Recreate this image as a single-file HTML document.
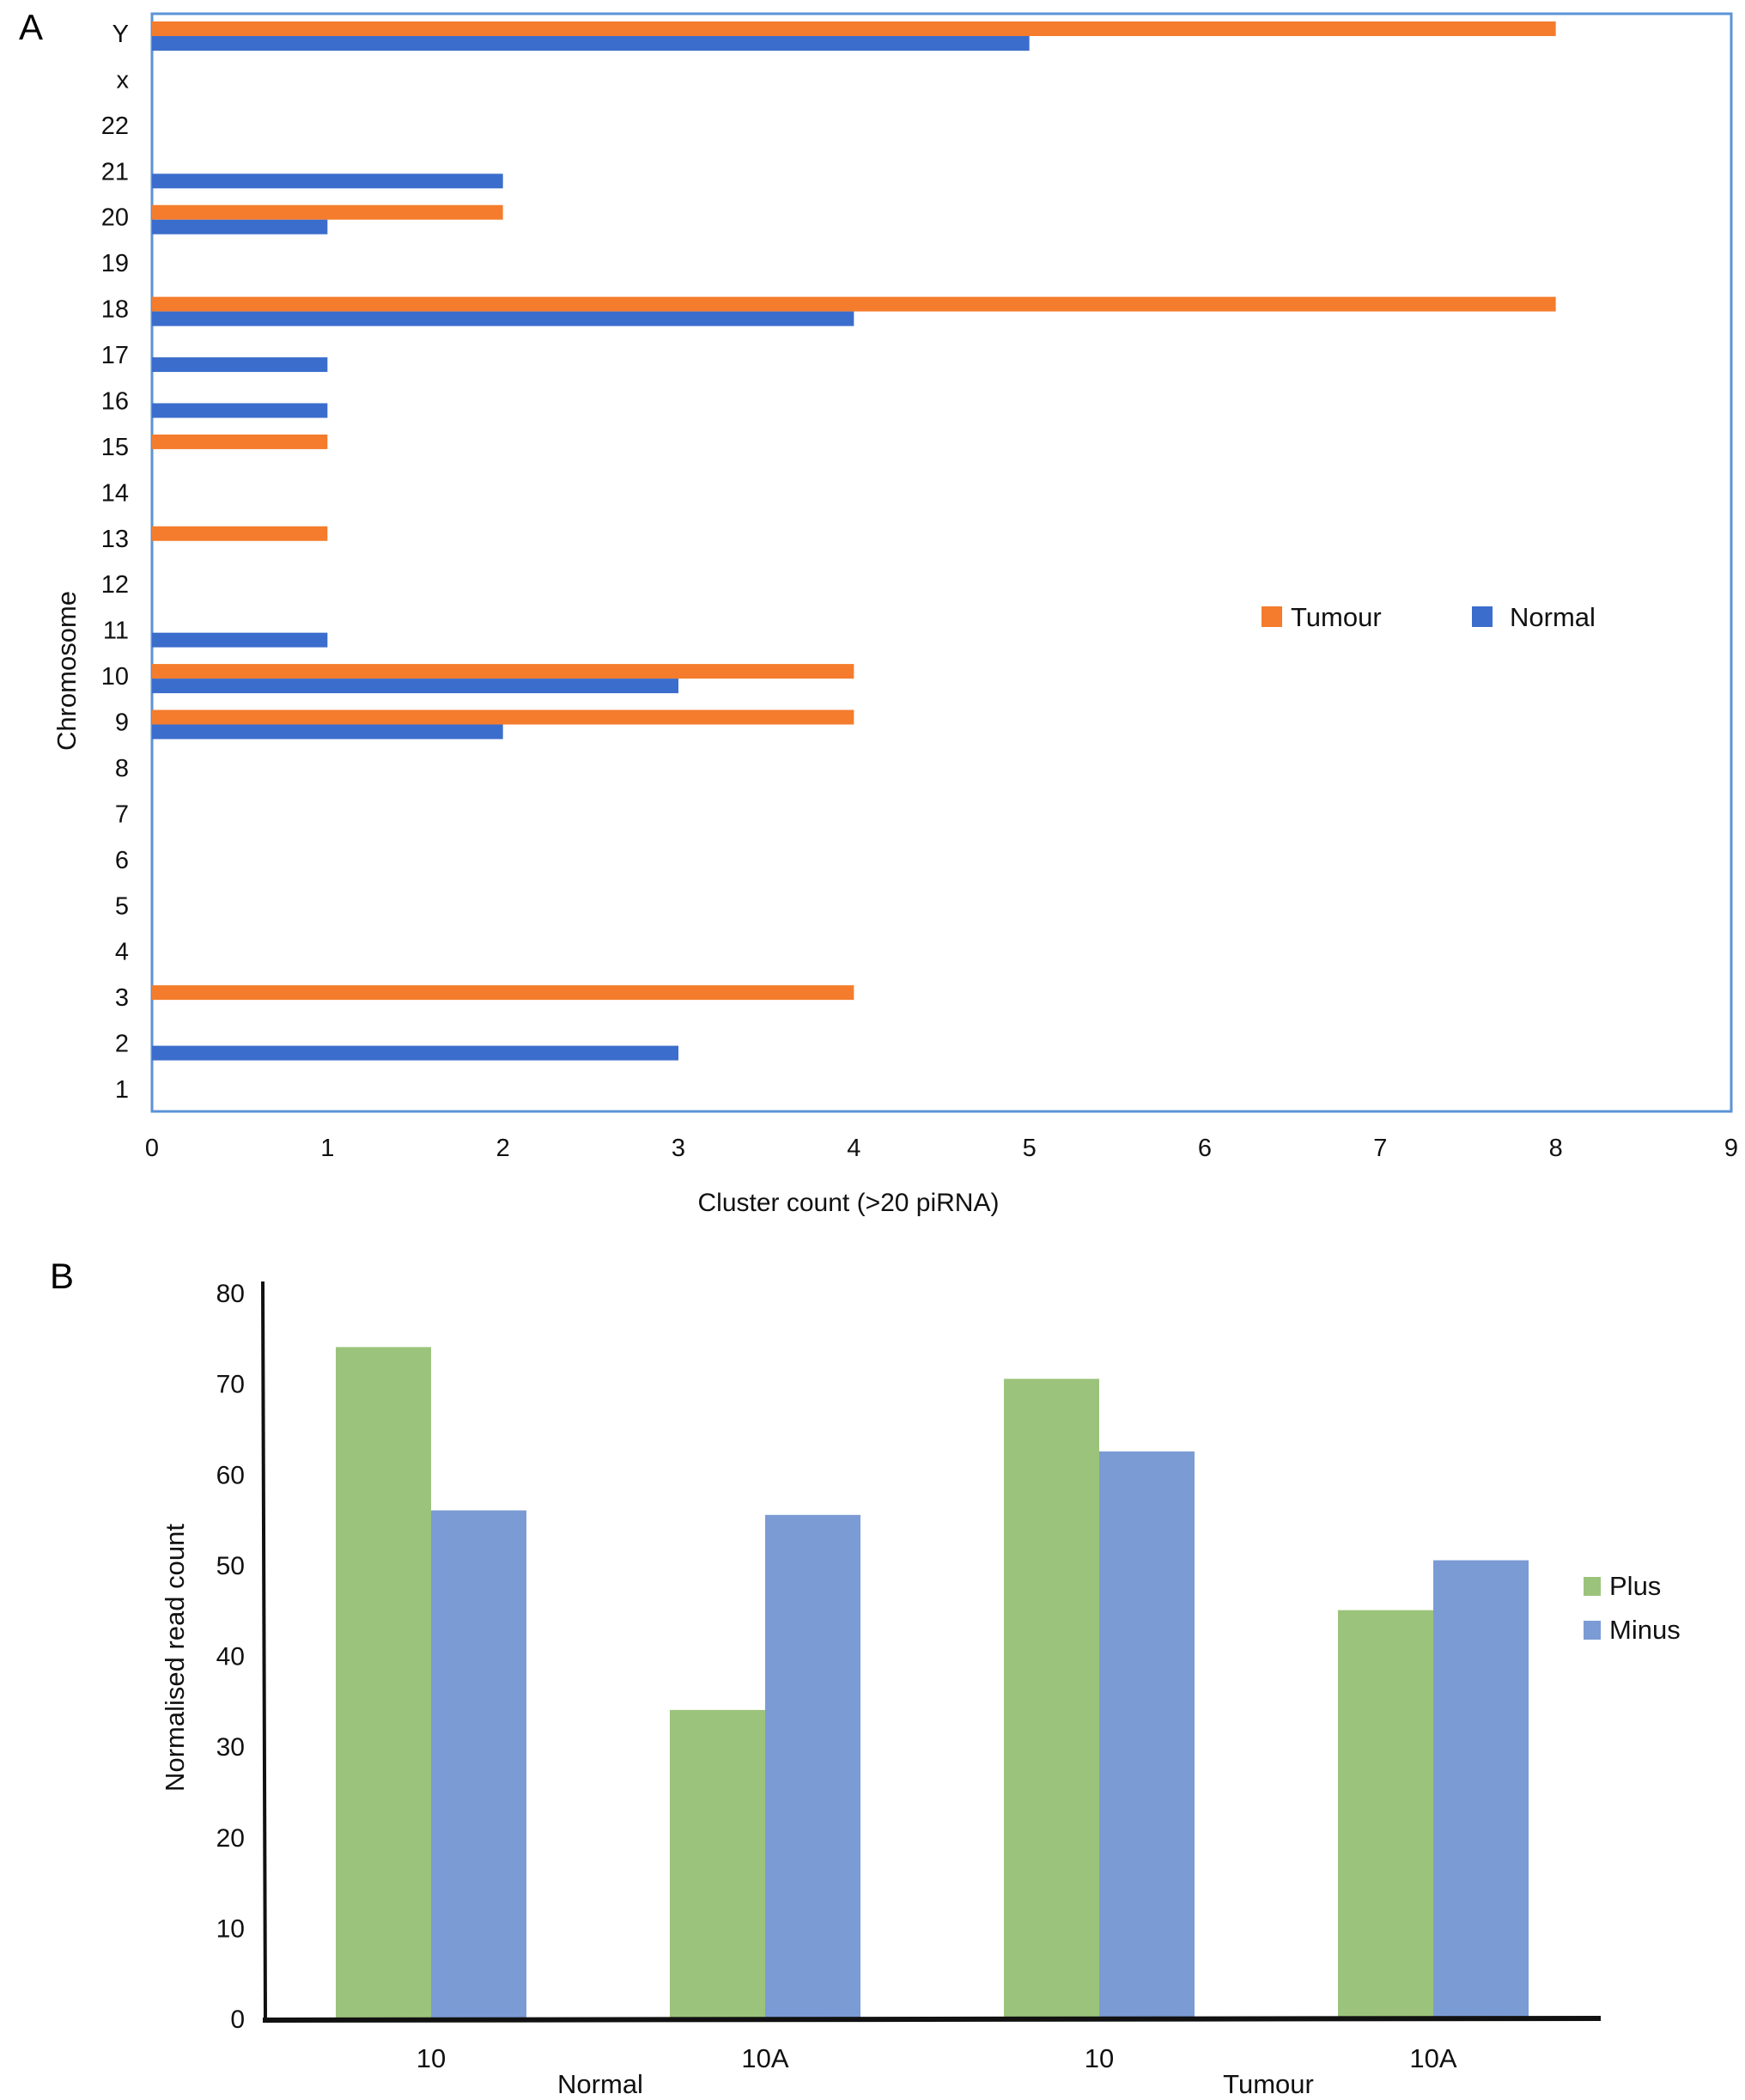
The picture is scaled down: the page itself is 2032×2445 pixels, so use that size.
<!DOCTYPE html>
<html><head><meta charset="utf-8"><style>
html,body{margin:0;padding:0;background:#fff}
svg{display:block;font-family:"Liberation Sans",sans-serif}
</style></head><body>
<svg id="fig" width="2032" height="2445" viewBox="0 0 2032 2445" xmlns="http://www.w3.org/2000/svg">
<text x="22" y="46" font-size="42">A</text>
<text x="58" y="1500" font-size="42">B</text>
<g id="chartA"></g>
<g id="chartB"></g>
</svg>
<script>
const chromosomes = ["Y","x","22","21","20","19","18","17","16","15","14","13","12","11","10","9","8","7","6","5","4","3","2","1"];
const tumourCounts = [8,0,0,0,2,0,8,0,0,1,0,1,0,0,4,4,0,0,0,0,0,4,0,0];
const normalCounts = [5,0,0,2,1,0,4,1,1,0,0,0,0,1,3,2,0,0,0,0,0,0,3,0];
const xTicksA = [0,1,2,3,4,5,6,7,8,9];

const groupsB = ["10","10A","10","10A"];
const plusValues = [74,34,70.5,45];
const minusValues = [56,55.5,62.5,50.5];
const yTicksB = [0,10,20,30,40,50,60,70,80];

const NS="http://www.w3.org/2000/svg";
function mk(parent,tag,attrs,text){const e=document.createElementNS(NS,tag);for(const k in attrs)e.setAttribute(k,attrs[k]);if(text!==undefined)e.textContent=text;parent.appendChild(e);return e;}

// ---- Chart A ----
(function(){
const g=document.getElementById('chartA');
const L=177,R=2016,T=16,B=1294;
const xA=v=>L+(R-L)*v/9;
const y0=39,step=(1268-39)/23;
const yA=i=>y0+i*step;
const bh=17;
let el=mk(g,'rect',{x:L,y:T,width:R-L,height:B-T,fill:'none',stroke:'#5b93d6','stroke-width':3});


chromosomes.forEach((c,i)=>{
  const cy=yA(i)+3;
  let t=mk(g,'text',{x:150,y:yA(i)+10,'font-size':29,'text-anchor':'end',fill:'#111'},c);
  
  
  if(tumourCounts[i]>0){
    let r=mk(g,'rect',{x:L,y:cy-bh,width:xA(tumourCounts[i])-L,height:bh,fill:'#f47c2c'});
    
    
  }
  if(normalCounts[i]>0){
    let r=mk(g,'rect',{x:L,y:cy,width:xA(normalCounts[i])-L,height:bh,fill:'#3b6dcc'});
    
    
  }
});
xTicksA.forEach(v=>{
  let t=mk(g,'text',{x:xA(v),y:1346,'font-size':29,'text-anchor':'middle',fill:'#111'},String(v));
  
  
});
el=mk(g,'text',{x:988,y:1410,'font-size':30,'text-anchor':'middle',fill:'#111'},'Cluster count (>20 piRNA)');


el=mk(g,'text',{x:0,y:0,'font-size':31,'text-anchor':'middle',fill:'#111',transform:'translate(88,781) rotate(-90)'},'Chromosome');


el=mk(g,'rect',{x:1469,y:706,width:24,height:24,fill:'#f47c2c'});


el=mk(g,'text',{x:1503,y:729,'font-size':31,fill:'#111'},'Tumour');


el=mk(g,'rect',{x:1714,y:706,width:24,height:24,fill:'#3b6dcc'});


el=mk(g,'text',{x:1758,y:729,'font-size':31,fill:'#111'},'Normal');


})();

// ---- Chart B ----
(function(){
const g=document.getElementById('chartB');
const X0=306,Y0=2350,Y80=1505;
const yB=v=>Y0-(Y0-Y80)*v/80;
const gx=i=>391+i*389;
const bw=111;
plusValues.forEach((v,i)=>{
  let r=mk(g,'rect',{x:gx(i),y:yB(v),width:bw,height:Y0-yB(v),fill:'#9cc37b'});
  
  
});
minusValues.forEach((v,i)=>{
  let r=mk(g,'rect',{x:gx(i)+bw,y:yB(v),width:bw,height:Y0-yB(v),fill:'#7b9bd5'});
  
  
});
let el=mk(g,'line',{x1:X0,y1:1492,x2:309,y2:2352,stroke:'#111','stroke-width':4});


el=mk(g,'line',{x1:306,y1:2352,x2:1864,y2:2350,stroke:'#111','stroke-width':6});


yTicksB.forEach(v=>{
  let t=mk(g,'text',{x:285,y:yB(v)+11,'font-size':30,'text-anchor':'end',fill:'#111'},String(v));
  
  
});
groupsB.forEach((c,i)=>{
  let t=mk(g,'text',{x:gx(i)+bw,y:2407,'font-size':31,'text-anchor':'middle',fill:'#111'},c);
  
  
});
el=mk(g,'text',{x:699,y:2437,'font-size':31,'text-anchor':'middle',fill:'#111'},'Normal');


el=mk(g,'text',{x:1477,y:2437,'font-size':31,'text-anchor':'middle',fill:'#111'},'Tumour');


el=mk(g,'text',{x:0,y:0,'font-size':31,'text-anchor':'middle',fill:'#111',transform:'translate(214,1930) rotate(-90)'},'Normalised read count');


el=mk(g,'rect',{x:1844,y:1836,width:20,height:22,fill:'#9cc37b'});


el=mk(g,'text',{x:1874,y:1857,'font-size':31,fill:'#111'},'Plus');


el=mk(g,'rect',{x:1844,y:1887,width:20,height:22,fill:'#7b9bd5'});


el=mk(g,'text',{x:1874,y:1908,'font-size':31,fill:'#111'},'Minus');


})();
</script>
</body></html>
